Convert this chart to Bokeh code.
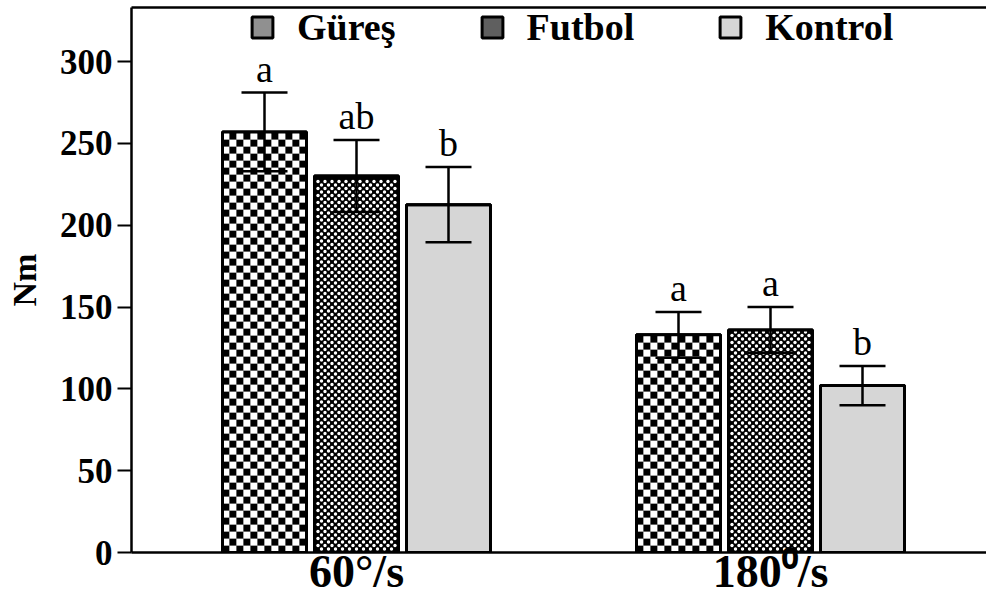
import numpy as np
from bokeh.plotting import figure
from bokeh.models import (ColumnDataSource, Whisker, TeeHead, Legend, LegendItem,
                          LinearAxis, FixedTicker, Range1d, CanvasTexture)
from bokeh.core.properties import value
from bokeh.embed import file_html
from bokeh.resources import INLINE

# ---- data ----
speeds = ["60°/s", "180⁰/s"]
groups = ["Güreş", "Futbol", "Kontrol"]
mean_60 = [257, 230, 212.5]
sd_60 = [24, 22, 23]
mean_180 = [133, 136, 102]
sd_180 = [14, 14, 12]
letters_60 = ["a", "ab", "b"]
letters_180 = ["a", "a", "b"]
y_ticks = [0, 50, 100, 150, 200, 250, 300]

# ---- layout helpers ----
PX_X = 46.0                 # pixels per x unit
Y_MAX = 333
PX_Y = 545.0 / Y_MAX        # pixels per y unit
group_centers = [5, 14]
offsets = [-2, 0, 2]
bar_width = 84 / PX_X
x_start = 5 - 225 / PX_X
x_end = x_start + 855 / PX_X

FONT = "Liberation Serif"

checker = CanvasTexture(code="""
const W = ctx.canvas.width, H = ctx.canvas.height;
ctx.fillStyle = '#ffffff'; ctx.fillRect(0, 0, W, H);
ctx.fillStyle = '#000000';
ctx.fillRect(0, 0, W/2, H/2); ctx.fillRect(W/2, H/2, W/2, H/2);
""")
diamond = CanvasTexture(code="""
const W = ctx.canvas.width, H = ctx.canvas.height;
ctx.fillStyle = '#000000'; ctx.fillRect(0, 0, W, H);
ctx.fillStyle = '#ffffff';
const r = W * 0.3;
const pts = [[0,0],[W,0],[0,H],[W,H],[W/2,H/2]];
for (const [x, y] of pts) { ctx.beginPath(); ctx.arc(x, y, r, 0, 2*Math.PI); ctx.fill(); }
""")
dots = CanvasTexture(code="""
const W = ctx.canvas.width, H = ctx.canvas.height;
ctx.fillStyle = '#e6e6e6'; ctx.fillRect(0, 0, W, H);
ctx.fillStyle = '#6a6a6a';
ctx.fillRect(0, 0, W/4, H/4); ctx.fillRect(W/2, H/2, W/4, H/4);
""")
patterns = [("checker", checker, 14),
            ("diamond", diamond, 7),
            ("dots", dots, 4)]

p = figure(width=986, height=599, output_backend="svg", toolbar_location=None,
           x_range=Range1d(x_start, x_end), y_range=Range1d(0, Y_MAX),
           min_border_left=131, min_border_right=0, min_border_top=7,
           min_border_bottom=47)
p.outline_line_color = None
p.xgrid.visible = False
p.ygrid.visible = False
p.background_fill_color = "white"
p.border_fill_color = "white"


def checker_cells(xc, top, size_px=7.0):
    """Checkerboard cells covering one bar (derived from the bar's data)."""
    sx, sy = size_px / PX_X, size_px / PX_Y
    ncol = int(round(bar_width / sx))
    nrow = int(np.ceil(top / sy))
    L, R, B, T, C = [], [], [], [], []
    left0 = xc - bar_width / 2
    for j in range(nrow):
        b = j * sy
        t = min((j + 1) * sy, top)
        for i in range(ncol):
            L.append(left0 + i * sx)
            R.append(left0 + (i + 1) * sx)
            B.append(b)
            T.append(t)
            C.append("black" if (i + j) % 2 == 0 else "white")
    return L, R, B, T, C


def hole_lattice(xc, top, step_px=7.0):
    """White holes of the cross-hatch texture inside one bar."""
    sx, sy = step_px / PX_X, (step_px / 2) / PX_Y
    left0 = xc - bar_width / 2
    m = 2.5 / PX_X
    X, Y = [], []
    nrow = int(top / sy)
    for j in range(1, nrow + 1):
        y = j * sy
        if y > top - 2.0 / PX_Y:
            break
        shift = 0.5 * sx if j % 2 else 0.0
        x = left0 + shift + 0.5 * sx
        while x < left0 + bar_width - m:
            if x > left0 + m:
                X.append(x)
                Y.append(y)
            x += sx
    return X, Y


legend_items = []
for i, g in enumerate(groups):
    xs = [c + offsets[i] for c in group_centers]
    tops = [mean_60[i], mean_180[i]]
    sds = [sd_60[i], sd_180[i]]
    src = ColumnDataSource(dict(
        x=xs, top=tops,
        upper=[t + s for t, s in zip(tops, sds)],
        lower=[t - s for t, s in zip(tops, sds)],
        letters=[letters_60[i], letters_180[i]],
    ))
    name, tex, scale = patterns[i]
    r = p.vbar(x="x", top="top", bottom=0, width=bar_width, source=src,
               fill_color="white", line_color="black", line_width=3,
               hatch_pattern=value(name), hatch_extra={name: tex}, hatch_scale=scale,
               hatch_color="black")
    legend_items.append(LegendItem(label=g, renderers=[r]))

    if name == "checker":
        cols = {"left": [], "right": [], "bottom": [], "top": [], "color": []}
        for xc, t in zip(xs, tops):
            L, R, B, T, C = checker_cells(xc, t)
            cols["left"] += L; cols["right"] += R; cols["bottom"] += B
            cols["top"] += T; cols["color"] += C
        p.quad(left="left", right="right", bottom="bottom", top="top",
               fill_color="color", line_color=None, source=ColumnDataSource(cols))
    elif name == "diamond":
        p.vbar(x="x", top="top", bottom=0, width=bar_width, source=src,
               fill_color="black", line_color=None)
        HX, HY = [], []
        for xc, t in zip(xs, tops):
            X, Y = hole_lattice(xc, t)
            HX += X; HY += Y
        p.scatter(HX, HY, marker="circle", size=3.4, fill_color="white", line_color=None)

    # outline on top of the texture
    p.vbar(x="x", top="top", bottom=0, width=bar_width, source=src,
           fill_alpha=0, line_color="black", line_width=3)

    w = Whisker(source=src, base="x", upper="upper", lower="lower",
                line_color="black", line_width=2.5, level="overlay",
                upper_head=TeeHead(size=46, line_width=2.5, line_color="black"),
                lower_head=TeeHead(size=46, line_width=2.5, line_color="black"))
    p.add_layout(w)
    p.text(x="x", y="upper", text="letters", source=src, text_align="center",
           text_baseline="alphabetic", y_offset=-24, text_font=value(FONT),
           text_font_size=value("38px"), text_color="black")

legend = Legend(items=legend_items, orientation="horizontal", location=(118, 503),
                padding=0, spacing=83, label_standoff=22, glyph_width=26,
                glyph_height=26, border_line_color=None, background_fill_alpha=0,
                label_text_font=FONT, label_text_font_style="bold",
                label_text_font_size="38px", label_text_color="black", margin=0)
p.add_layout(legend)

# y axis
ya = p.yaxis[0]
ya.ticker = FixedTicker(ticks=y_ticks)
ya.axis_line_width = 2.5
ya.axis_line_color = "black"
ya.major_tick_line_width = 2
ya.major_tick_line_color = "black"
ya.major_tick_out = 14
ya.major_tick_in = 0
ya.minor_tick_out = 0
ya.minor_tick_in = 0
ya.major_label_text_font = FONT
ya.major_label_text_font_style = "bold"
ya.major_label_text_font_size = "35px"
ya.major_label_text_color = "black"
ya.major_label_standoff = 5
ya.axis_label = "Nm"
ya.axis_label_text_font = FONT
ya.axis_label_text_font_style = "bold"
ya.axis_label_text_font_size = "34px"
ya.axis_label_text_color = "black"
ya.axis_label_standoff = 14

# x axis
xa = p.xaxis[0]
xa.ticker = FixedTicker(ticks=group_centers)
xa.major_label_overrides = {c: s for c, s in zip(group_centers, speeds)}
xa.axis_line_width = 2.5
xa.axis_line_color = "black"
xa.major_tick_out = 0
xa.major_tick_in = 0
xa.minor_tick_out = 0
xa.minor_tick_in = 0
xa.major_label_text_font = FONT
xa.major_label_text_font_style = "bold"
xa.major_label_text_font_size = "46px"
xa.major_label_text_color = "black"
xa.major_label_standoff = -7

# top frame line
top = LinearAxis(ticker=FixedTicker(ticks=[]), axis_line_width=2.5, axis_line_color="black",
                 major_tick_out=0, major_tick_in=0, minor_tick_out=0, minor_tick_in=0,
                 major_label_text_font_size="0px", major_label_standoff=0)
p.add_layout(top, "above")

open("out.html", "w").write(file_html(p, INLINE))
